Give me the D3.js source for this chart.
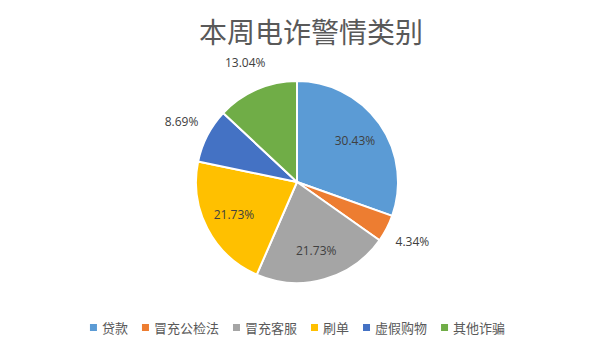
<!DOCTYPE html>
<html>
<head>
<meta charset="utf-8">
<script src="https://cdn.jsdelivr.net/npm/d3@7"></script>
<style>
  body { margin: 0; background: #fff; }
  svg { display: block; }
</style>
</head>
<body>
<svg></svg>
<script>
const width = 596
const height = 353

// 数据
const categories = ["贷款", "冒充公检法", "冒充客服", "刷单", "虚假购物", "其他诈骗"]
const counts = [7, 1, 5, 5, 2, 3]
const pctLabels = ["30.43%", "4.34%", "21.73%", "21.73%", "8.69%", "13.04%"]
const colors = ["#5B9BD5", "#ED7D31", "#A5A5A5", "#FFC000", "#4472C4", "#70AD47"]
const outside = [false, true, false, false, true, true]

const cx = 297, cy = 182, r = 101

const svg = d3.select("svg")
  .attr("width", width)
  .attr("height", height)
  .attr("viewBox", [0, 0, width, height])

// 标题
svg.append("text")
  .attr("x", 311)
  .attr("y", 43)
  .attr("text-anchor", "middle")
  .attr("font-family", "Noto Sans CJK SC")
  .attr("font-size", 28)
  .attr("fill", "#595959")
  .text("本周电诈警情类别")

const data = categories.map((c, i) => ({name: c, value: counts[i], label: pctLabels[i], color: colors[i], out: outside[i]}))

const pie = d3.pie().value(d => d.value).sort(null)
const arc = d3.arc().innerRadius(0).outerRadius(r)
const inArc = d3.arc().innerRadius(71).outerRadius(71)
const outArc = d3.arc().innerRadius(130).outerRadius(130)

const g = svg.append("g").attr("transform", `translate(${cx},${cy})`)

const arcs = pie(data)

g.selectAll("path")
  .data(arcs)
  .join("path")
  .attr("d", arc)
  .attr("fill", d => d.data.color)
  .attr("stroke", "#fff")
  .attr("stroke-width", 2)
  .attr("stroke-linejoin", "round")

g.selectAll(".lbl")
  .data(arcs)
  .join("text")
  .attr("class", "lbl")
  .attr("transform", d => `translate(${(d.data.out ? outArc : inArc).centroid(d)})`)
  .attr("text-anchor", "middle")
  .attr("dy", "0.35em")
  .attr("font-family", "Open Sans")
  .attr("font-size", 12)
  .attr("fill", "#404040")
  .text(d => d.data.label)

// 图例
const legend = svg.append("g").attr("transform", "translate(0,328)")
const items = legend.selectAll("g")
  .data(data)
  .join("g")

items.append("rect")
  .attr("width", 7)
  .attr("height", 7)
  .attr("y", -4)
  .attr("fill", d => d.color)

items.append("text")
  .attr("x", 12)
  .attr("dy", "0.35em")
  .attr("font-family", "Noto Sans CJK SC")
  .attr("font-size", 13)
  .attr("fill", "#595959")
  .text(d => d.name)

let offsets = []
let pos = 0
items.each(function() {
  const w = this.querySelector("text").getComputedTextLength()
  offsets.push(pos)
  pos += 12 + w + 14
})
const total = pos - 14
const start = 297.5 - total / 2
items.attr("transform", (d, i) => `translate(${start + offsets[i]},0)`)
</script>
</body>
</html>
